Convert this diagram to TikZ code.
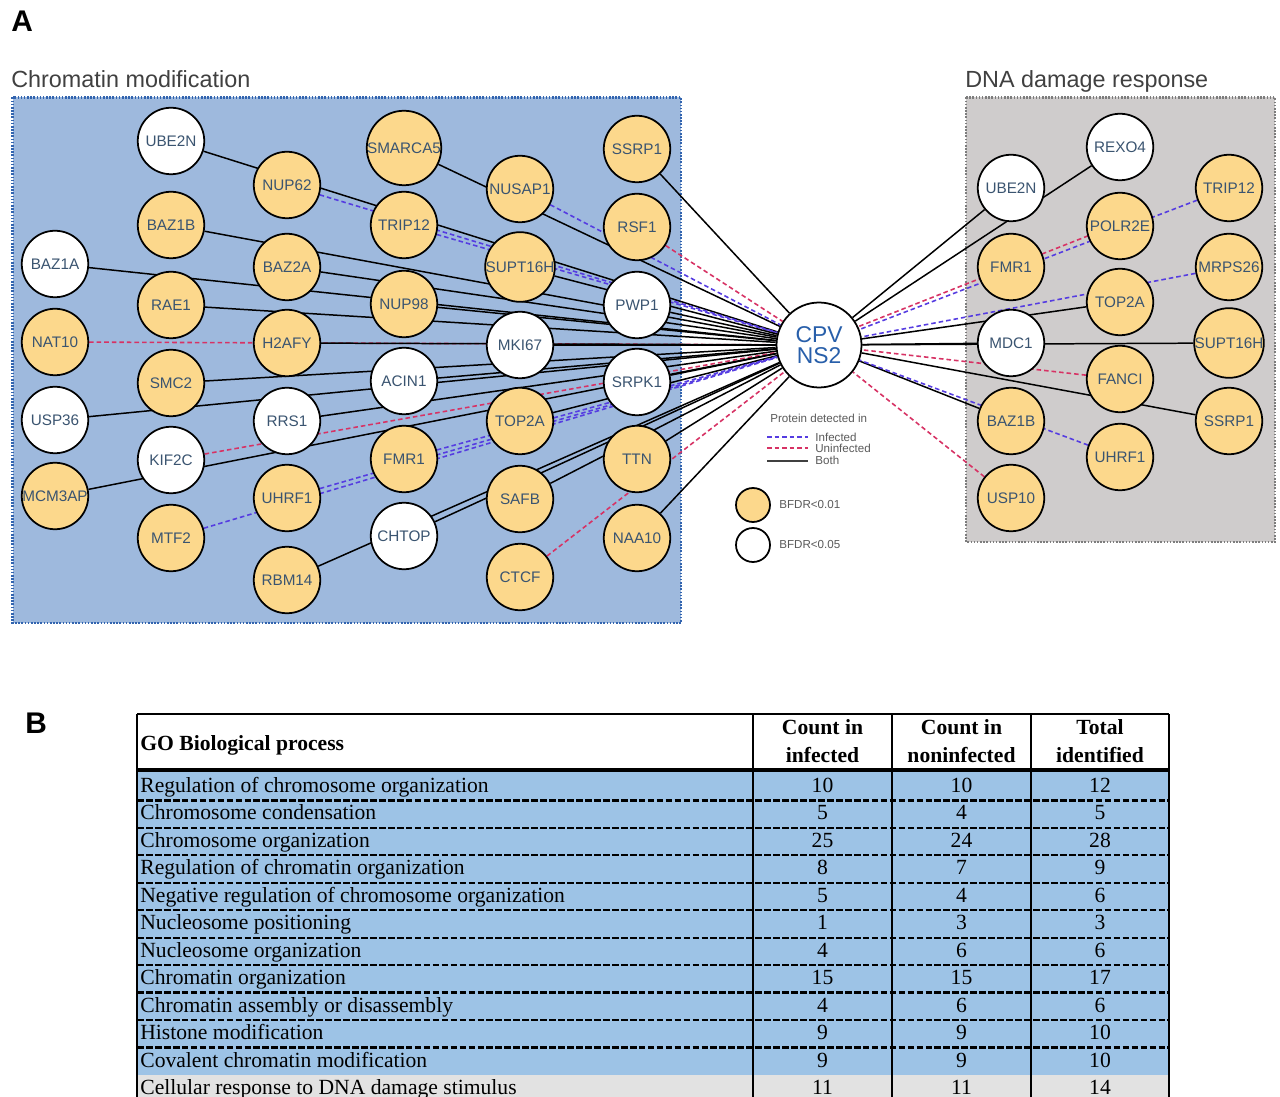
\documentclass[tikz,border=0pt]{standalone}
\usepackage{fontspec}
\setmainfont{Liberation Sans}
\newfontfamily\serifT{Liberation Serif}
\pgfdeclarelayer{panel}
\pgfdeclarelayer{edges}
\pgfsetlayers{panel,edges,main}
\definecolor{panelblue}{RGB}{158,185,221}
\definecolor{panelblueB}{RGB}{50,100,175}
\definecolor{panelgray}{RGB}{207,204,204}
\definecolor{panelgrayB}{RGB}{125,125,125}
\definecolor{nodeorange}{RGB}{252,216,140}
\definecolor{labelc}{RGB}{58,84,112}
\definecolor{hubc}{RGB}{40,95,170}
\definecolor{edgeblue}{RGB}{85,60,225}
\definecolor{edgered}{RGB}{215,50,100}
\definecolor{titlec}{RGB}{64,64,64}
\definecolor{legc}{RGB}{90,90,90}
\definecolor{rowblue}{RGB}{157,195,230}
\definecolor{rowgray}{RGB}{226,226,226}
\tikzset{
  prot/.style={circle, draw=black, line width=1pt, minimum size=1.33cm, inner sep=0pt,
    font=\fontsize{8.7}{10}\selectfont, text=labelc},
  sigA/.style={prot, fill=nodeorange},
  sigB/.style={prot, fill=white},
  edgeboth/.style={draw=black, line width=0.85pt},
  edgeinf/.style={draw=edgeblue, line width=0.9pt, dash pattern=on 2.6pt off 1.7pt},
  edgeuninf/.style={draw=edgered, line width=0.9pt, dash pattern=on 2.6pt off 1.7pt},
  legtext/.style={anchor=west, inner sep=0pt, font=\fontsize{6.6}{8}\selectfont, text=legc},
  tabtext/.style={inner sep=0pt, font=\serifT\fontsize{12.3}{14}\selectfont},
  tabhead/.style={inner sep=0pt, font=\serifT\bfseries\fontsize{12.3}{15.9}\selectfont},
}
\begin{document}
\begin{tikzpicture}[x=0.02cm,y=-0.02cm]
\useasboundingbox (0,0) rectangle (1280,1097);
\begin{pgfonlayer}{panel}
  \fill[white] (0,0) rectangle (1280,1097);
  \draw[fill=panelblue, draw=panelblueB, line width=1.2pt, dash pattern=on 0.9pt off 0.9pt] (12.5,97.5) rectangle (681,623);
  \draw[fill=panelgray, draw=panelgrayB, line width=1.2pt, dash pattern=on 0.9pt off 0.9pt] (966,97.5) rectangle (1275,542);
\end{pgfonlayer}

% panel labels and titles
\node[anchor=base west, inner sep=0pt, font=\bfseries\fontsize{17}{20}\selectfont] (lblA) at (11,32) {A};
\node[anchor=base west, inner sep=0pt, font=\bfseries\fontsize{17}{20}\selectfont] (lblB) at (25,733) {B};
\node[anchor=base west, inner sep=0pt, font=\fontsize{13.3}{15}\selectfont, text=titlec] (ttlL) at (11,88) {Chromatin modification};
\node[anchor=base west, inner sep=0pt, font=\fontsize{13.3}{15}\selectfont, text=titlec] (ttlR) at (965,88) {DNA damage response};

% hub
\node[circle, draw=black, line width=1pt, minimum size=1.7cm, inner sep=0pt, fill=white, align=center,
  text=hubc, font=\fontsize{13}{11.6}\selectfont] (hub) at (819,345) {CPV\\NS2};

% left nodes
\foreach \n/\x/\y/\s/\t in {
  LUBE2N/171/141/sigB/UBE2N, LNUP62/287/185/sigA/NUP62, LSMARCA5/404/148/sigA/SMARCA5,
  LNUSAP1/520/189/sigA/NUSAP1, LSSRP1/637/149/sigA/SSRP1, LBAZ1B/171/225/sigA/BAZ1B,
  LTRIP12/404/225/sigA/TRIP12, LRSF1/637/227/sigA/RSF1, LBAZ1A/55/264/sigB/BAZ1A,
  LBAZ2A/287/267/sigA/BAZ2A, LSUPT16H/520/267/sigA/SUPT16H, LPWP1/637/305/sigB/PWP1,
  LRAE1/171/305/sigA/RAE1, LNUP98/404/304/sigA/NUP98, LNAT10/55/342/sigA/NAT10,
  LH2AFY/287/343/sigA/H2AFY, LMKI67/520/345/sigB/MKI67, LSMC2/171/383/sigA/SMC2,
  LACIN1/404/381/sigB/ACIN1, LSRPK1/637/382/sigB/SRPK1, LUSP36/55/420/sigB/USP36,
  LRRS1/287/421/sigB/RRS1, LTOP2A/520/421/sigA/TOP2A, LKIF2C/171/460/sigB/KIF2C,
  LFMR1/404/459/sigA/FMR1, LTTN/637/459/sigA/TTN, LMCM3AP/55/496/sigA/MCM3AP,
  LUHRF1/287/498/sigA/UHRF1, LSAFB/520/499/sigA/SAFB, LMTF2/171/538/sigA/MTF2,
  LCHTOP/404/536/sigB/CHTOP, LNAA10/637/538/sigA/NAA10, LRBM14/287/580/sigA/RBM14,
  LCTCF/520/577/sigA/CTCF}
  \node[\s] (\n) at (\x,\y) {\t};

% right nodes
\foreach \n/\x/\y/\s/\t in {
  RREXO4/1120/147/sigB/REXO4, RUBE2N/1011/188/sigB/UBE2N, RTRIP12/1229/188/sigA/TRIP12,
  RPOLR2E/1120/226/sigA/POLR2E, RFMR1/1011/267/sigA/FMR1, RMRPS26/1229/267/sigA/MRPS26,
  RTOP2A/1120/302/sigA/TOP2A, RMDC1/1011/343/sigB/MDC1, RSUPT16H/1229/343/sigA/SUPT16H,
  RFANCI/1120/379/sigA/FANCI, RSSRP1/1229/421/sigA/SSRP1, RBAZ1B/1011/421/sigA/BAZ1B,
  RUHRF1/1120/457/sigA/UHRF1, RUSP10/1011/498/sigA/USP10}
  \node[\s] (\n) at (\x,\y) {\t};

% connectors
\begin{pgfonlayer}{edges}
\foreach \n/\e in {
  LUBE2N/edgeboth, LNUP62/edgeinf, LSMARCA5/edgeboth, LNUSAP1/edgeinf, LSSRP1/edgeboth,
  LBAZ1B/edgeboth, LTRIP12/edgeinf, LRSF1/edgeuninf, LBAZ1A/edgeboth, LBAZ2A/edgeboth,
  LSUPT16H/edgeboth, LPWP1/edgeboth, LRAE1/edgeboth, LNUP98/edgeboth, LNAT10/edgeuninf,
  LH2AFY/edgeboth, LMKI67/edgeboth, LSMC2/edgeboth, LACIN1/edgeboth, LSRPK1/edgeboth,
  LUSP36/edgeboth, LRRS1/edgeboth, LTOP2A/edgeboth, LKIF2C/edgeuninf, LFMR1/edgeinf,
  LTTN/edgeboth, LMCM3AP/edgeboth, LUHRF1/edgeinf, LSAFB/edgeboth, LMTF2/edgeinf,
  LCHTOP/edgeboth, LNAA10/edgeboth, LRBM14/edgeboth, LCTCF/edgeuninf,
  RUBE2N/edgeboth, RREXO4/edgeboth, RTRIP12/edgeinf, RMRPS26/edgeinf,
  RTOP2A/edgeboth, RMDC1/edgeboth, RSUPT16H/edgeboth, RFANCI/edgeuninf, RSSRP1/edgeboth,
  RBAZ1B/edgeboth, RUHRF1/edgeinf, RUSP10/edgeuninf}
  \draw[\e] (\n) -- (hub);
\draw[edgeuninf, transform canvas={yshift=1.6pt}] (RPOLR2E) -- (hub);
\end{pgfonlayer}

% legend
\node[legtext] (legT) at (770,418) {Protein detected in};
\coordinate (li1) at (767,437); \coordinate (li2) at (808,437);
\coordinate (lu1) at (767,448); \coordinate (lu2) at (808,448);
\coordinate (lb1) at (767,461); \coordinate (lb2) at (808,461);
\draw[edgeinf] (li1) -- (li2);
\draw[edgeuninf] (lu1) -- (lu2);
\draw[edgeboth, draw=black!75] (lb1) -- (lb2);
\node[legtext] (legI) at (815,437) {Infected};
\node[legtext] (legU) at (815,448) {Uninfected};
\node[legtext] (legB) at (815,460) {Both};
\node[sigA, minimum size=0.68cm] (legO) at (753,505) {};
\node[sigB, minimum size=0.68cm] (legW) at (753,545) {};
\node[legtext] (legO1) at (779,505) {BFDR<0.01};
\node[legtext] (legW1) at (779,545) {BFDR<0.05};

% table
\fill[white] (137,714) rectangle (1169,770);
\fill[rowblue] (137,771) rectangle (1169,1075);
\fill[rowgray] (137,1075) rectangle (1169,1097);
\foreach \k in {1,...,10}{
  \pgfmathsetmacro{\yy}{773+27.45*\k}
  \draw[line width=1.3pt, dash pattern=on 3.8pt off 1.3pt] (137,\yy) -- (1169,\yy);
}
\draw[line width=2.2pt] (137,770) -- (1169,770);
\draw[line width=1.2pt] (137,714) -- (1169,714);
\foreach \xx in {137,753,892,1031,1169}
  \draw[line width=1.2pt] (\xx,714) -- (\xx,1097);

\node[tabhead, anchor=base west] (hGO) at (140,750) {GO Biological process};
\node[tabhead, align=center] (hC1) at (822.5,741) {Count in\\infected};
\node[tabhead, align=center] (hC2) at (961.5,741) {Count in\\noninfected};
\node[tabhead, align=center] (hC3) at (1100,741) {Total\\identified};

\foreach \i/\t/\a/\b/\c in {
  1/Regulation of chromosome organization/10/10/12,
  2/Chromosome condensation/5/4/5,
  3/Chromosome organization/25/24/28,
  4/Regulation of chromatin organization/8/7/9,
  5/Negative regulation of chromosome organization/5/4/6,
  6/Nucleosome positioning/1/3/3,
  7/Nucleosome organization/4/6/6,
  8/Chromatin organization/15/15/17,
  9/Chromatin assembly or disassembly/4/6/6,
  10/Histone modification/9/9/10,
  11/Covalent chromatin modification/9/9/10,
  12/Cellular response to DNA damage stimulus/11/11/14}{
  \pgfmathsetmacro{\yb}{773+27.45*(\i-1)+19.5}
  \node[tabtext, anchor=base west] (r\i t) at (140,\yb) {\t};
  \node[tabtext, anchor=base] (r\i a) at (822.5,\yb) {\a};
  \node[tabtext, anchor=base] (r\i b) at (961.5,\yb) {\b};
  \node[tabtext, anchor=base] (r\i c) at (1100,\yb) {\c};
}
\end{tikzpicture}
\end{document}
